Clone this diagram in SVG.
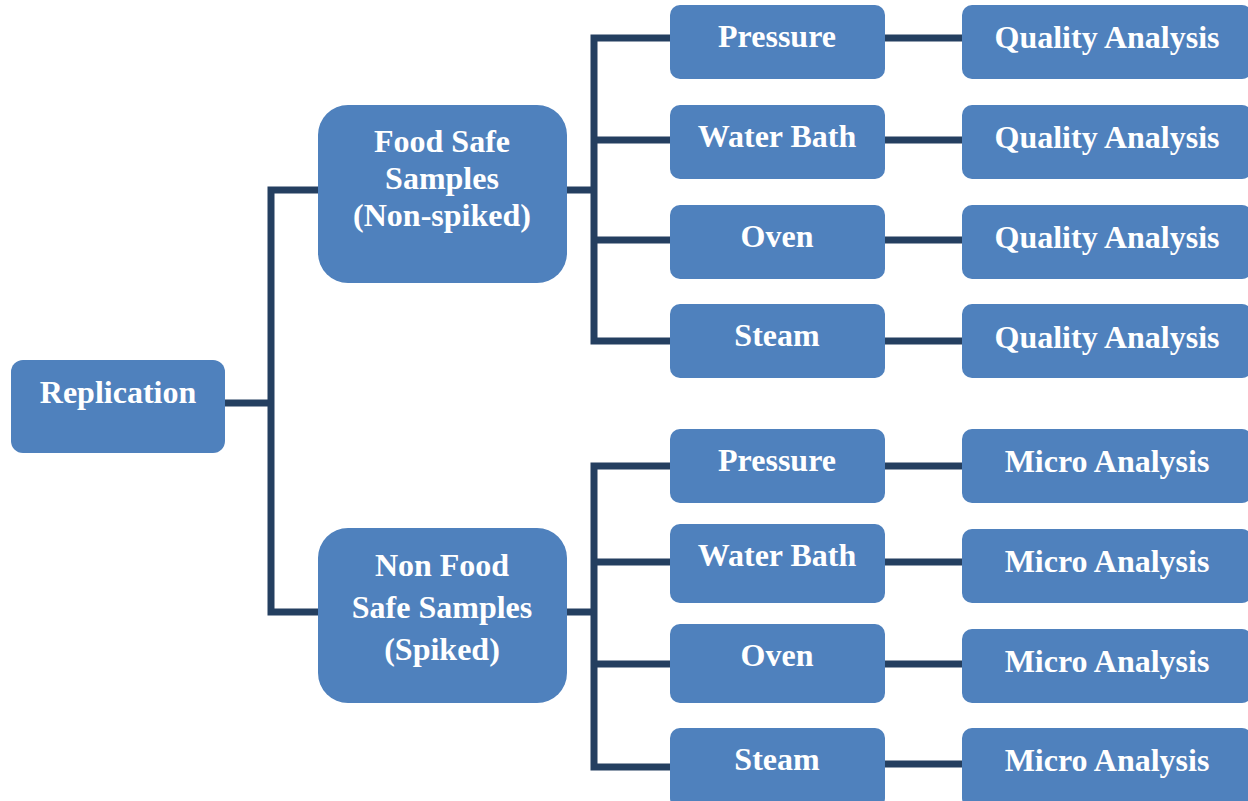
<svg xmlns="http://www.w3.org/2000/svg" width="1248" height="801" viewBox="0 0 1248 801">
<style>
.box{fill:#4F81BD;}
.t{font-family:"Liberation Serif","Times New Roman",serif;font-weight:bold;font-size:32px;fill:#ffffff;text-anchor:middle;}
.c{fill:none;stroke:#243F60;stroke-width:7;stroke-linecap:butt;stroke-linejoin:miter;}
</style>
<rect width="1248" height="801" fill="#ffffff"/>
<g id="connectors">
<path class="c" d="M225,403 H271"/>
<path class="c" d="M318,190 H271 V612 H318"/>
<path class="c" d="M567,190 H597"/>
<path class="c" d="M670,38 H594 V341 H670"/>
<path class="c" d="M594,140 H670"/>
<path class="c" d="M594,240 H670"/>
<path class="c" d="M567,612 H597"/>
<path class="c" d="M670,466 H594 V767 H670"/>
<path class="c" d="M594,562 H670"/>
<path class="c" d="M594,664 H670"/>
<path class="c" d="M885,38 H962"/>
<path class="c" d="M885,140 H962"/>
<path class="c" d="M885,240 H962"/>
<path class="c" d="M885,341 H962"/>
<path class="c" d="M885,466 H962"/>
<path class="c" d="M885,562 H962"/>
<path class="c" d="M885,664 H962"/>
<path class="c" d="M885,764 H962"/>
</g>
<g id="replication"><rect class="box" x="11" y="360" width="214" height="93" rx="12"/><text class="t" x="118" y="403">Replication</text></g>
<g id="food-safe"><rect class="box" x="318" y="105" width="249" height="178" rx="30"/><text class="t" x="442" y="152">Food Safe</text><text class="t" x="442" y="189">Samples</text><text class="t" x="442" y="226">(Non-spiked)</text></g>
<g id="non-food-safe"><rect class="box" x="318" y="528" width="249" height="175" rx="30"/><text class="t" x="442" y="576">Non Food</text><text class="t" x="442" y="618">Safe Samples</text><text class="t" x="442" y="660">(Spiked)</text></g>
<g id="fs-pressure"><rect class="box" x="670" y="5" width="215" height="74" rx="10"/><text class="t" x="777" y="47">Pressure</text></g>
<g id="fs-waterbath"><rect class="box" x="670" y="105" width="215" height="74" rx="10"/><text class="t" x="777" y="147">Water Bath</text></g>
<g id="fs-oven"><rect class="box" x="670" y="205" width="215" height="74" rx="10"/><text class="t" x="777" y="247">Oven</text></g>
<g id="fs-steam"><rect class="box" x="670" y="304" width="215" height="74" rx="10"/><text class="t" x="777" y="346">Steam</text></g>
<g id="nfs-pressure"><rect class="box" x="670" y="429" width="215" height="74" rx="10"/><text class="t" x="777" y="471">Pressure</text></g>
<g id="nfs-waterbath"><rect class="box" x="670" y="524" width="215" height="79" rx="10"/><text class="t" x="777" y="566">Water Bath</text></g>
<g id="nfs-oven"><rect class="box" x="670" y="624" width="215" height="79" rx="10"/><text class="t" x="777" y="666">Oven</text></g>
<g id="nfs-steam"><rect class="box" x="670" y="728" width="215" height="80" rx="10"/><text class="t" x="777" y="770">Steam</text></g>
<g id="qa1"><rect class="box" x="962" y="5" width="290" height="74" rx="10"/><text class="t" x="1107" y="48">Quality Analysis</text></g>
<g id="qa2"><rect class="box" x="962" y="105" width="290" height="74" rx="10"/><text class="t" x="1107" y="148">Quality Analysis</text></g>
<g id="qa3"><rect class="box" x="962" y="205" width="290" height="74" rx="10"/><text class="t" x="1107" y="248">Quality Analysis</text></g>
<g id="qa4"><rect class="box" x="962" y="304" width="290" height="74" rx="10"/><text class="t" x="1107" y="348">Quality Analysis</text></g>
<g id="ma1"><rect class="box" x="962" y="429" width="290" height="74" rx="10"/><text class="t" x="1107" y="472">Micro Analysis</text></g>
<g id="ma2"><rect class="box" x="962" y="529" width="290" height="74" rx="10"/><text class="t" x="1107" y="572">Micro Analysis</text></g>
<g id="ma3"><rect class="box" x="962" y="629" width="290" height="74" rx="10"/><text class="t" x="1107" y="672">Micro Analysis</text></g>
<g id="ma4"><rect class="box" x="962" y="728" width="290" height="80" rx="10"/><text class="t" x="1107" y="771">Micro Analysis</text></g>
</svg>
